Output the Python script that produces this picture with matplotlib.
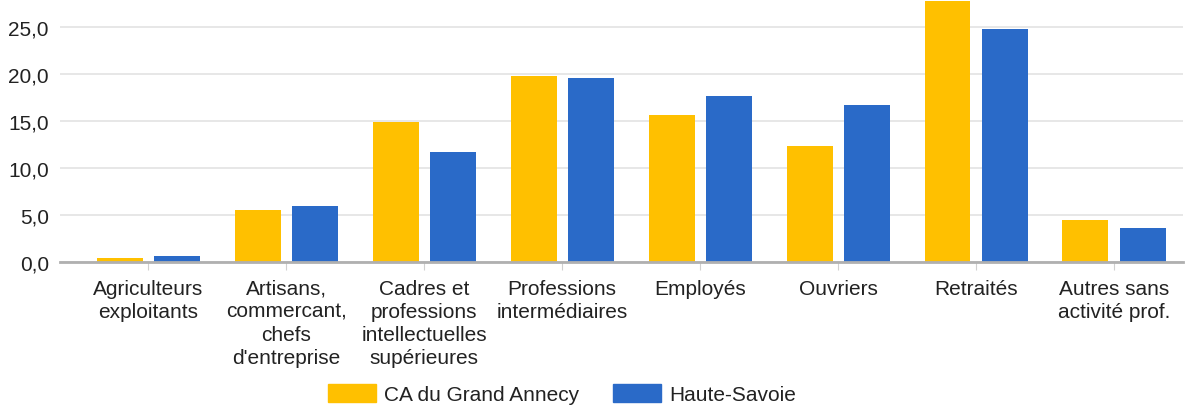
import matplotlib
matplotlib.use("Agg")
import matplotlib.pyplot as plt
import numpy as np
from matplotlib.patches import Patch
from matplotlib.ticker import FuncFormatter

categories = ["Agriculteurs\nexploitants", "Artisans,\ncommercant,\nchefs\nd'entreprise",
              "Cadres et\nprofessions\nintellectuelles\nsupérieures", "Professions\nintermédiaires",
              "Employés", "Ouvriers", "Retraités", "Autres sans\nactivité prof."]
series_names = ["CA du Grand Annecy", "Haute-Savoie"]
annecy = [0.4, 5.5, 14.9, 19.8, 15.7, 12.4, 27.8, 4.5]
haute_savoie = [0.6, 6.0, 11.7, 19.6, 17.7, 16.7, 24.8, 3.6]
yticks = [0, 5, 10, 15, 20, 25]

plt.rcParams['font.family'] = ['Liberation Sans', 'DejaVu Sans']
yellow = "#FFC000"
blue = "#2A6AC8"
txt = "#222222"

fig = plt.figure(figsize=(11.89, 4.10), dpi=100)
ax = fig.add_axes([60/1189, 1-263/410, (1183-60)/1189, 263/410])

x = np.arange(len(categories))
w = 0.333
off = 0.207
ax.bar(x - off, annecy, w, color=yellow, zorder=3)
ax.bar(x + off, haute_savoie, w, color=blue, zorder=3)

ax.set_xlim(-0.64, 7.5)
ax.set_ylim(0, 28.0)
ax.set_yticks(yticks)
ax.yaxis.set_major_formatter(FuncFormatter(lambda v, p: f"{v:.1f}".replace(".", ",")))
ax.grid(axis='y', color="#e3e3e3", linewidth=1.2, zorder=0)
for s in ['top', 'right', 'left']:
    ax.spines[s].set_visible(False)
ax.spines['bottom'].set_color("#b0b0b0")
ax.spines['bottom'].set_linewidth(2)
ax.spines['bottom'].set_zorder(4)
ax.set_xticks(x)
ax.set_xticklabels(categories, fontsize=15, color=txt, linespacing=1.27, va='top')
ax.tick_params(axis='x', length=6, color="#d0d0d0", pad=6)
ax.tick_params(axis='y', length=0, labelsize=15, labelcolor=txt, pad=8)

handles = [Patch(color=yellow), Patch(color=blue)]
fig.legend(handles, series_names, loc='center', bbox_to_anchor=(562/1189, 1-395/410), ncol=2,
           frameon=False, fontsize=15, handlelength=2.3, handleheight=0.95,
           handletextpad=0.4, columnspacing=1.6, labelcolor=txt)

fig.savefig("out.png", dpi=100)
